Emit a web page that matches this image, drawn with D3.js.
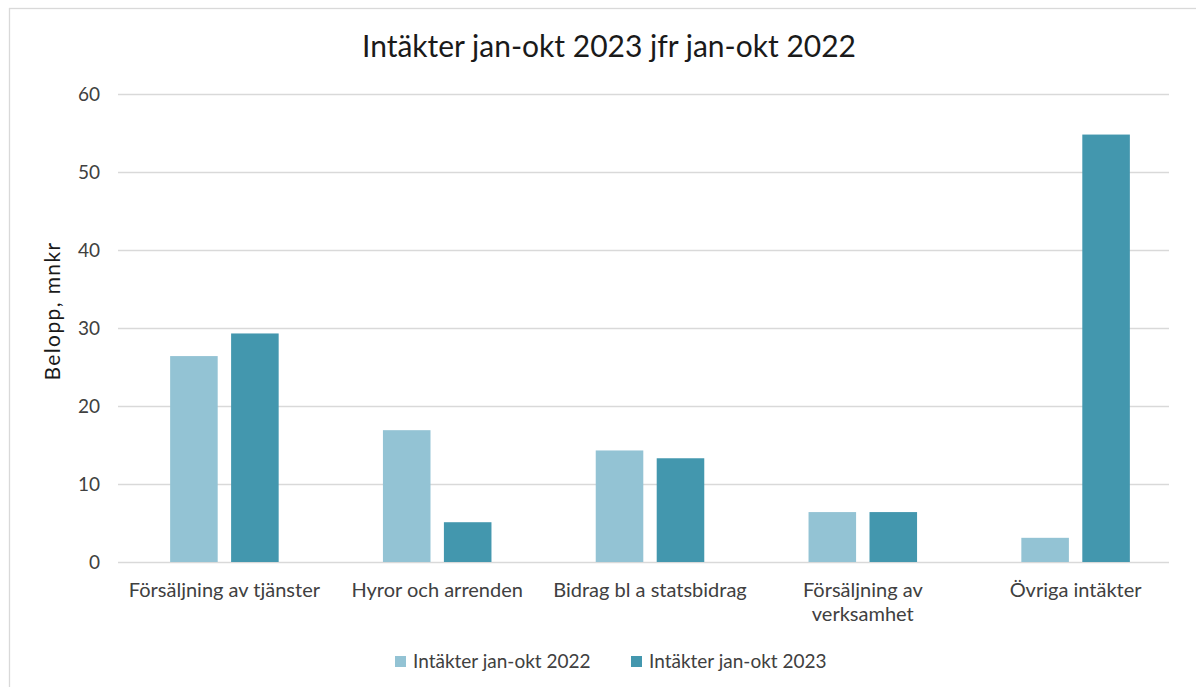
<!DOCTYPE html>
<html>
<head>
<meta charset="UTF-8">
<title>Intäkter</title>
<script src="https://cdnjs.cloudflare.com/ajax/libs/d3/7.8.5/d3.min.js"></script>
<style>
  body { margin: 0; background: #fff; }
  svg { display: block; font-family: Lato, "Open Sans", sans-serif; }
  .grid line { stroke: #d9d9d9; stroke-width: 1.3; }
  .tick text { fill: #404040; }
</style>
</head>
<body>
<script>
// data
var categories = ["Försäljning av tjänster", "Hyror och arrenden", "Bidrag bl a statsbidrag",
                  "Försäljning av verksamhet", "Övriga intäkter"];
var series = ["Intäkter jan-okt 2022", "Intäkter jan-okt 2023"];
var values2022 = [26.4, 16.9, 14.3, 6.4, 3.1];
var values2023 = [29.3, 5.1, 13.3, 6.4, 54.8];
var yTicks = [0, 10, 20, 30, 40, 50, 60];
var colors = ["#93c3d4", "#4397ae"];

var W = 1196, H = 687;
var margin = {top: 94, right: 27, bottom: 125, left: 118};
var width = W - margin.left - margin.right,
    height = H - margin.top - margin.bottom;

var svg = d3.select("body").append("svg")
    .attr("width", W)
    .attr("height", H);

// chart frame
svg.append("rect")
    .attr("x", 9.5).attr("y", 8.5)
    .attr("width", W).attr("height", H)
    .attr("fill", "none")
    .attr("stroke", "#d9d9d9")
    .attr("stroke-width", 1.3);

svg.append("text")
    .attr("x", 609).attr("y", 57)
    .attr("text-anchor", "middle")
    .attr("fill", "#1a1a1a")
    .style("font-size", "30px")
    .text("Intäkter jan-okt 2023 jfr jan-okt 2022");

var g = svg.append("g")
    .attr("transform", "translate(" + margin.left + "," + margin.top + ")");

// category groups are spread a bit wider than the gridlines
var x0 = d3.scaleBand()
    .domain(categories)
    .range([0, 1064])
    .paddingInner(0.49)
    .paddingOuter(0.245);

var x1 = d3.scaleBand()
    .domain(series)
    .range([0, x0.bandwidth()])
    .paddingInner(0.22);

var y = d3.scaleLinear()
    .domain([0, 60])
    .range([height, 0]);

// gridlines
g.append("g")
    .attr("class", "grid")
    .call(d3.axisLeft(y).tickValues(yTicks).tickSize(-width).tickFormat(""))
    .call(function(a) { a.select(".domain").remove(); });

// y labels
g.append("g")
    .call(d3.axisLeft(y).tickValues(yTicks).tickSize(0).tickPadding(18))
    .call(function(a) { a.select(".domain").remove(); })
    .selectAll("text")
    .style("font-size", "19px")
    .style("font-family", "Lato, sans-serif");

g.append("text")
    .attr("transform", "translate(-58," + (height / 2 - 17) + ") rotate(-90)")
    .attr("text-anchor", "middle")
    .attr("fill", "#1a1a1a")
    .style("font-size", "21px")
    .style("letter-spacing", "1.4px")
    .text("Belopp, mnkr");

// bars
var rows = categories.map(function(c, i) {
  return {cat: c, vals: [values2022[i], values2023[i]]};
});

var grp = g.selectAll(".cat")
    .data(rows)
  .enter().append("g")
    .attr("transform", function(d) { return "translate(" + x0(d.cat) + ",0)"; });

grp.selectAll("rect")
    .data(function(d) { return d.vals.map(function(v, k) { return {s: series[k], v: v, k: k}; }); })
  .enter().append("rect")
    .attr("x", function(d) { return x1(d.s); })
    .attr("y", function(d) { return y(d.v); })
    .attr("width", x1.bandwidth())
    .attr("height", function(d) { return height - y(d.v); })
    .attr("fill", function(d) { return colors[d.k]; });

// category labels (wrapped like the original)
var catLines = {
  "Försäljning av verksamhet": ["Försäljning av", "verksamhet"]
};
var xl = g.append("g").attr("transform", "translate(0," + height + ")");
categories.forEach(function(c) {
  var lines = catLines[c] || [c];
  var t = xl.append("text")
      .attr("x", x0(c) + x0.bandwidth() / 2)
      .attr("y", 35)
      .attr("text-anchor", "middle")
      .attr("fill", "#404040")
      .style("font-size", "20px");
  lines.forEach(function(l, i) {
    t.append("tspan")
        .attr("x", x0(c) + x0.bandwidth() / 2)
        .attr("dy", i === 0 ? 0 : 24)
        .text(l);
  });
});

// legend
var legX = [395, 631];
var leg = svg.append("g");
series.forEach(function(s, i) {
  leg.append("rect")
      .attr("x", legX[i]).attr("y", 656)
      .attr("width", 11).attr("height", 11)
      .attr("fill", colors[i]);
  leg.append("text")
      .attr("x", legX[i] + 18).attr("y", 668)
      .attr("fill", "#404040")
      .style("font-size", "19px")
      .text(s);
});
</script>
</body>
</html>
